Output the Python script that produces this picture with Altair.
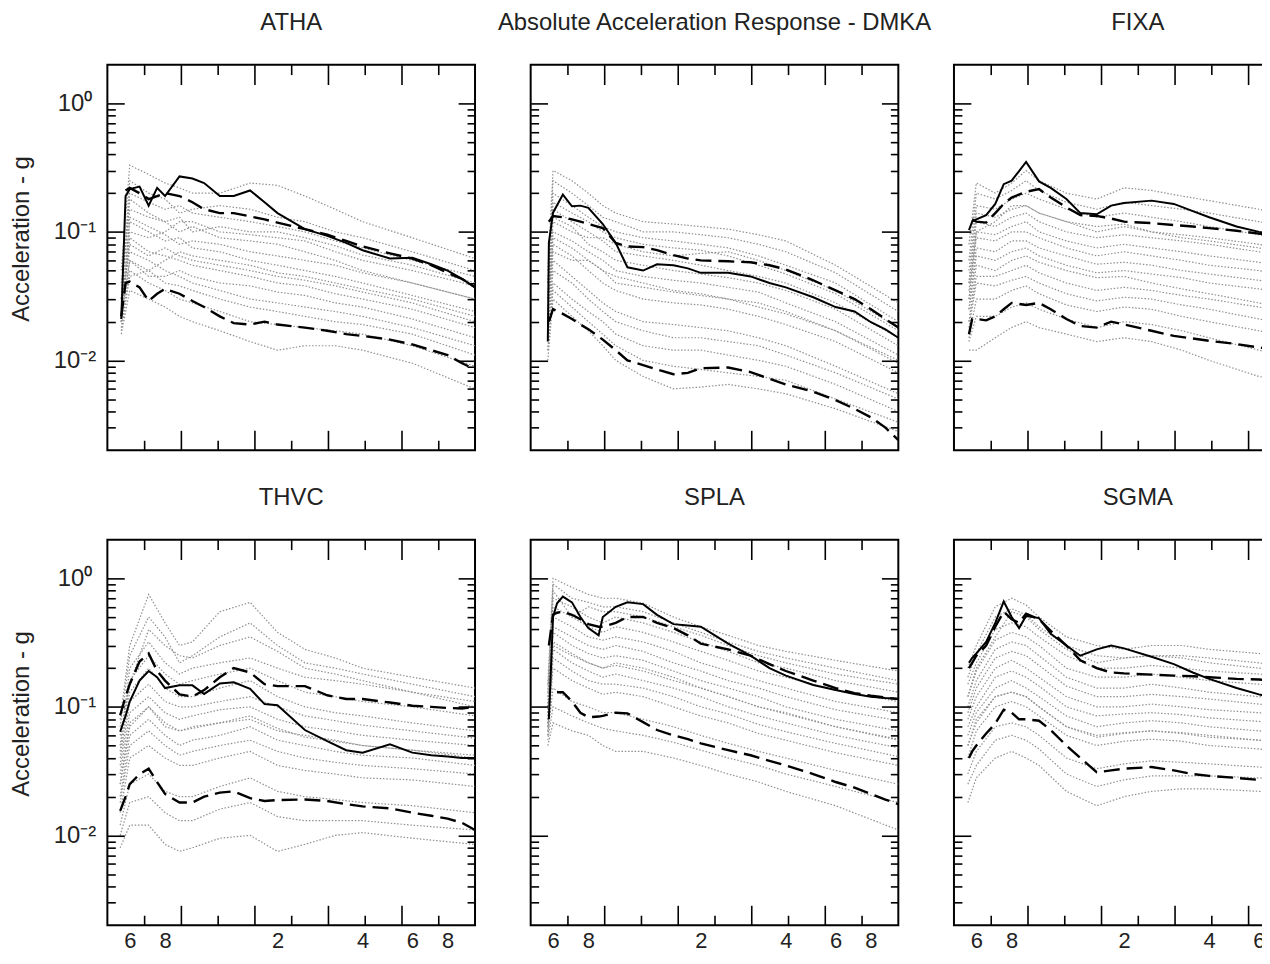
import altair as alt
import pandas as pd

FONT = "Liberation Sans"
TEXT_COLOR = "#222222"

KEYS = ["ATHA", "DMKA", "FIXA", "THVC", "SPLA", "SGMA"]
TITLES = ["ATHA", "Absolute Acceleration Response - DMKA", "FIXA", "THVC", "SPLA", "SGMA"]

# ---------------- main lines (solid = record, dashed = upper / lower bounds) ----------------
MAIN_X = {
    "ATHA": [0.56, 0.58, 0.6, 0.65, 0.7, 0.75, 0.8, 0.9, 1.0, 1.1, 1.25, 1.4, 1.6, 1.8, 2.0, 2.5, 3, 3.5, 4, 5, 6, 7, 8, 9, 10],
    "DMKA": [0.575, 0.58, 0.6, 0.65, 0.7, 0.75, 0.8, 0.9, 1.0, 1.1, 1.25, 1.4, 1.6, 1.8, 2.0, 2.5, 3, 3.5, 4, 5, 6, 7, 8, 9, 10],
    "FIXA": [0.565, 0.58, 0.6, 0.65, 0.7, 0.75, 0.8, 0.9, 1.0, 1.1, 1.25, 1.4, 1.6, 1.8, 2.0, 2.5, 3, 3.5, 4, 5, 6, 7, 8],
    "THVC": [0.555, 0.58, 0.6, 0.65, 0.7, 0.75, 0.8, 0.9, 1.0, 1.1, 1.25, 1.4, 1.6, 1.8, 2.0, 2.5, 3, 3.5, 4, 5, 6, 7, 8, 9, 10],
    "SPLA": [0.58, 0.6, 0.62, 0.65, 0.7, 0.75, 0.8, 0.87, 0.9, 1.0, 1.1, 1.25, 1.4, 1.6, 1.8, 2.0, 2.5, 3, 3.5, 4, 5, 6, 7, 8, 9, 10],
    "SGMA": [0.565, 0.58, 0.6, 0.65, 0.7, 0.75, 0.8, 0.85, 0.9, 1.0, 1.1, 1.25, 1.4, 1.6, 1.8, 2.0, 2.5, 3, 3.5, 4, 5, 6, 7, 8],
}
SOLID = {
    "ATHA": [0.021, 0.19, 0.215, 0.225, 0.16, 0.22, 0.19, 0.27, 0.26, 0.24, 0.19, 0.19, 0.21, 0.17, 0.14, 0.105, 0.093, 0.082, 0.072, 0.062, 0.063, 0.056, 0.05, 0.043, 0.037],
    "DMKA": [0.014, 0.082, 0.141, 0.195, 0.158, 0.16, 0.154, 0.115, 0.082, 0.053, 0.05, 0.056, 0.055, 0.052, 0.048, 0.048, 0.045, 0.04, 0.037, 0.031, 0.026, 0.024, 0.0198, 0.0174, 0.015],
    "FIXA": [0.103, 0.12, 0.125, 0.135, 0.165, 0.235, 0.25, 0.35, 0.247, 0.22, 0.18, 0.14, 0.137, 0.16, 0.168, 0.175, 0.165, 0.145, 0.13, 0.11, 0.1, 0.095, 0.09],
    "THVC": [0.064, 0.085, 0.11, 0.16, 0.19, 0.17, 0.14, 0.147, 0.147, 0.126, 0.152, 0.155, 0.138, 0.105, 0.103, 0.066, 0.054, 0.046, 0.044, 0.051, 0.044, 0.042, 0.041, 0.04, 0.04],
    "SPLA": [0.08, 0.5, 0.64, 0.72, 0.65, 0.5, 0.41, 0.36, 0.5, 0.6, 0.65, 0.63, 0.52, 0.44, 0.43, 0.42, 0.31, 0.25, 0.2, 0.175, 0.148, 0.135, 0.126, 0.12, 0.117, 0.115],
    "SGMA": [0.22, 0.24, 0.26, 0.32, 0.45, 0.66, 0.5, 0.41, 0.51, 0.49, 0.37, 0.3, 0.25, 0.28, 0.3, 0.285, 0.245, 0.215, 0.185, 0.165, 0.14, 0.125, 0.115, 0.108],
}
UPPER = {
    "ATHA": [None, 0.21, 0.22, 0.2, 0.18, 0.19, 0.2, 0.19, 0.17, 0.15, 0.14, 0.14, 0.132, 0.125, 0.118, 0.105, 0.095, 0.085, 0.077, 0.068, 0.062, 0.055, 0.048, 0.043, 0.037],
    "DMKA": [None, 0.12, 0.133, 0.13, 0.125, 0.12, 0.115, 0.107, 0.082, 0.077, 0.076, 0.072, 0.066, 0.062, 0.06, 0.059, 0.058, 0.055, 0.051, 0.042, 0.035, 0.03, 0.025, 0.021, 0.018],
    "FIXA": [None, 0.125, 0.12, 0.118, 0.14, 0.165, 0.185, 0.205, 0.215, 0.185, 0.155, 0.135, 0.133, 0.127, 0.12, 0.117, 0.113, 0.11, 0.107, 0.102, 0.097, 0.093, 0.09],
    "THVC": [0.086, 0.12, 0.15, 0.225, 0.26, 0.19, 0.16, 0.125, 0.12, 0.135, 0.17, 0.2, 0.185, 0.15, 0.145, 0.145, 0.123, 0.115, 0.115, 0.108, 0.102, 0.1, 0.098, 0.097, 0.1],
    "SPLA": [0.3, 0.52, 0.54, 0.55, 0.52, 0.48, 0.44, 0.42, 0.42, 0.45, 0.5, 0.5, 0.45, 0.41, 0.36, 0.31, 0.28, 0.25, 0.215, 0.19, 0.16, 0.14, 0.128, 0.122, 0.118, 0.115],
    "SGMA": [0.2, 0.22, 0.25, 0.3, 0.42, 0.55, 0.48, 0.45, 0.53, 0.48, 0.39, 0.3, 0.23, 0.2, 0.185, 0.182, 0.178, 0.175, 0.173, 0.17, 0.165, 0.163, 0.16, 0.158],
}
LOWER = {
    "ATHA": [0.022, 0.04, 0.041, 0.037, 0.029, 0.033, 0.036, 0.033, 0.029, 0.026, 0.022, 0.0195, 0.019, 0.02, 0.019, 0.018, 0.017, 0.016, 0.0155, 0.0145, 0.0133, 0.012, 0.011, 0.0095, 0.0085],
    "DMKA": [None, 0.02, 0.025, 0.023, 0.021, 0.019, 0.0175, 0.0145, 0.012, 0.01, 0.0092, 0.0085, 0.0078, 0.008, 0.0087, 0.0088, 0.0081, 0.0072, 0.0065, 0.0057, 0.0049, 0.0042, 0.0036, 0.003, 0.0024],
    "FIXA": [0.016, 0.021, 0.021, 0.0205, 0.022, 0.025, 0.028, 0.027, 0.028, 0.025, 0.021, 0.0185, 0.018, 0.02, 0.019, 0.017, 0.0155, 0.0148, 0.0142, 0.0134, 0.0126, 0.012, 0.0115],
    "THVC": [0.0155, 0.02, 0.025, 0.03, 0.033, 0.026, 0.021, 0.018, 0.018, 0.02, 0.0215, 0.022, 0.0195, 0.0185, 0.0188, 0.019, 0.0185, 0.0175, 0.0168, 0.0162, 0.015, 0.0142, 0.0135, 0.0125, 0.011],
    "SPLA": [None, None, 0.13, 0.13, 0.11, 0.09, 0.083, 0.084, 0.085, 0.09, 0.089, 0.076, 0.066, 0.06, 0.056, 0.052, 0.046, 0.042, 0.038, 0.035, 0.03, 0.026, 0.0235, 0.021, 0.019, 0.0175],
    "SGMA": [0.04, 0.045, 0.05, 0.062, 0.074, 0.095, 0.09, 0.08, 0.08, 0.078, 0.066, 0.05, 0.04, 0.031, 0.032, 0.033, 0.034, 0.032, 0.03, 0.029, 0.028, 0.027, 0.026, 0.025],
}

# ---------------- individual records (dotted gray) ----------------
GRAY_X = {
    "ATHA": [0.56, 0.6, 0.7, 0.8, 0.9, 1.0, 1.25, 1.6, 2.0, 2.5, 3.2, 4.0, 6.0, 10.0],
    "DMKA": [0.575, 0.6, 0.7, 0.8, 0.9, 1.0, 1.25, 1.6, 2.0, 2.5, 3.2, 4.0, 6.0, 10.0],
    "FIXA": [0.565, 0.6, 0.7, 0.8, 0.9, 1.0, 1.25, 1.6, 2.0, 2.5, 3.2, 4.0, 6.0, 10.0],
    "THVC": [0.555, 0.6, 0.7, 0.8, 0.9, 1.0, 1.25, 1.6, 2.0, 2.5, 3.2, 4.0, 6.0, 10.0],
    "SPLA": [0.575, 0.6, 0.7, 0.8, 0.9, 1.0, 1.25, 1.6, 2.0, 2.5, 3.2, 4.0, 6.0, 10.0],
    "SGMA": [0.56, 0.6, 0.7, 0.8, 0.9, 1.0, 1.25, 1.6, 2.0, 2.5, 3.2, 4.0, 6.0, 10.0],
}
GRAY = {
    "ATHA": [
        [0.05, 0.33, 0.28, 0.24, 0.22, 0.2, 0.2, 0.24, 0.23, 0.19, 0.15, 0.12, 0.09, 0.062],
        [0.03, 0.2, 0.17, 0.15, 0.16, 0.14, 0.13, 0.12, 0.11, 0.1, 0.085, 0.075, 0.06, 0.045],
        [0.04, 0.15, 0.13, 0.12, 0.1, 0.11, 0.09, 0.085, 0.08, 0.07, 0.06, 0.05, 0.04, 0.03],
        [0.025, 0.12, 0.1, 0.085, 0.09, 0.075, 0.07, 0.06, 0.055, 0.05, 0.045, 0.04, 0.032, 0.024],
        [0.02, 0.09, 0.07, 0.065, 0.06, 0.055, 0.05, 0.045, 0.04, 0.038, 0.033, 0.03, 0.025, 0.018],
        [0.03, 0.07, 0.06, 0.05, 0.045, 0.04, 0.035, 0.03, 0.028, 0.026, 0.024, 0.022, 0.018, 0.013],
        [0.018, 0.05, 0.04, 0.035, 0.03, 0.028, 0.024, 0.02, 0.019, 0.018, 0.017, 0.016, 0.013, 0.009],
        [0.016, 0.035, 0.03, 0.026, 0.022, 0.02, 0.017, 0.014, 0.012, 0.013, 0.013, 0.012, 0.0095, 0.006],
        [0.02, 0.1, 0.09, 0.1, 0.12, 0.12, 0.1, 0.095, 0.09, 0.085, 0.07, 0.06, 0.05, 0.038],
        [0.022, 0.06, 0.05, 0.06, 0.07, 0.065, 0.06, 0.055, 0.048, 0.045, 0.04, 0.036, 0.03, 0.022],
        [0.03, 0.25, 0.2, 0.18, 0.14, 0.15, 0.16, 0.15, 0.13, 0.12, 0.1, 0.09, 0.07, 0.05],
        [0.02, 0.13, 0.11, 0.095, 0.08, 0.085, 0.08, 0.07, 0.065, 0.06, 0.055, 0.048, 0.04, 0.03],
        [0.025, 0.08, 0.065, 0.075, 0.065, 0.06, 0.055, 0.05, 0.045, 0.042, 0.038, 0.034, 0.028, 0.02],
        [0.017, 0.045, 0.05, 0.04, 0.038, 0.035, 0.03, 0.026, 0.024, 0.022, 0.02, 0.019, 0.016, 0.011],
        [0.03, 0.18, 0.14, 0.12, 0.13, 0.1, 0.11, 0.1, 0.1, 0.09, 0.078, 0.066, 0.055, 0.04],
        [0.02, 0.06, 0.045, 0.045, 0.05, 0.045, 0.04, 0.038, 0.034, 0.032, 0.028, 0.026, 0.021, 0.015],
    ],
    "DMKA": [
        [0.05, 0.3, 0.25, 0.2, 0.16, 0.14, 0.12, 0.115, 0.11, 0.105, 0.095, 0.085, 0.055, 0.028],
        [0.03, 0.2, 0.16, 0.13, 0.11, 0.1, 0.09, 0.085, 0.08, 0.075, 0.065, 0.055, 0.04, 0.02],
        [0.04, 0.15, 0.12, 0.1, 0.085, 0.07, 0.065, 0.06, 0.055, 0.05, 0.045, 0.04, 0.028, 0.015],
        [0.02, 0.1, 0.085, 0.07, 0.06, 0.05, 0.045, 0.042, 0.04, 0.037, 0.034, 0.028, 0.02, 0.011],
        [0.025, 0.08, 0.065, 0.05, 0.04, 0.035, 0.03, 0.028, 0.027, 0.025, 0.022, 0.019, 0.014, 0.008],
        [0.015, 0.06, 0.045, 0.035, 0.028, 0.024, 0.02, 0.019, 0.018, 0.017, 0.015, 0.013, 0.009, 0.0055],
        [0.012, 0.04, 0.03, 0.024, 0.02, 0.016, 0.013, 0.012, 0.012, 0.011, 0.01, 0.009, 0.0065, 0.004],
        [0.01, 0.03, 0.022, 0.017, 0.013, 0.01, 0.0075, 0.006, 0.0062, 0.0065, 0.006, 0.0055, 0.0042, 0.0028],
        [0.03, 0.12, 0.1, 0.09, 0.09, 0.08, 0.07, 0.065, 0.068, 0.07, 0.06, 0.05, 0.035, 0.018],
        [0.02, 0.07, 0.06, 0.06, 0.05, 0.045, 0.04, 0.035, 0.033, 0.03, 0.026, 0.023, 0.017, 0.01],
        [0.04, 0.25, 0.2, 0.16, 0.13, 0.12, 0.1, 0.1, 0.095, 0.09, 0.08, 0.07, 0.048, 0.024],
        [0.025, 0.13, 0.11, 0.08, 0.07, 0.06, 0.055, 0.05, 0.047, 0.044, 0.04, 0.035, 0.025, 0.013],
        [0.02, 0.09, 0.075, 0.06, 0.05, 0.04, 0.037, 0.034, 0.032, 0.03, 0.028, 0.024, 0.017, 0.0095],
        [0.015, 0.05, 0.04, 0.03, 0.024, 0.02, 0.017, 0.015, 0.015, 0.014, 0.013, 0.011, 0.008, 0.005],
        [0.03, 0.17, 0.14, 0.12, 0.1, 0.09, 0.08, 0.075, 0.072, 0.065, 0.055, 0.047, 0.033, 0.017],
        [0.012, 0.035, 0.026, 0.02, 0.016, 0.013, 0.01, 0.009, 0.0085, 0.008, 0.0075, 0.007, 0.005, 0.0033],
    ],
    "FIXA": [
        [0.08, 0.24, 0.2, 0.24, 0.3, 0.25, 0.2, 0.18, 0.22, 0.21, 0.19, 0.175, 0.15, 0.12],
        [0.05, 0.16, 0.15, 0.18, 0.2, 0.18, 0.15, 0.13, 0.14, 0.13, 0.12, 0.11, 0.095, 0.075],
        [0.04, 0.12, 0.11, 0.13, 0.14, 0.12, 0.1, 0.09, 0.095, 0.09, 0.085, 0.08, 0.07, 0.055],
        [0.03, 0.09, 0.085, 0.1, 0.1, 0.09, 0.075, 0.065, 0.07, 0.065, 0.06, 0.055, 0.05, 0.04],
        [0.025, 0.065, 0.06, 0.07, 0.075, 0.065, 0.055, 0.048, 0.05, 0.047, 0.044, 0.04, 0.036, 0.03],
        [0.02, 0.045, 0.045, 0.05, 0.055, 0.048, 0.04, 0.035, 0.037, 0.035, 0.032, 0.03, 0.026, 0.021],
        [0.015, 0.03, 0.03, 0.035, 0.038, 0.033, 0.027, 0.024, 0.026, 0.025, 0.022, 0.02, 0.017, 0.014],
        [0.012, 0.012, 0.015, 0.018, 0.02, 0.018, 0.016, 0.014, 0.015, 0.014, 0.012, 0.01, 0.0075, 0.006],
        [0.035, 0.1, 0.12, 0.16, 0.16, 0.14, 0.12, 0.11, 0.115, 0.1, 0.09, 0.085, 0.075, 0.06],
        [0.02, 0.055, 0.05, 0.06, 0.065, 0.058, 0.05, 0.044, 0.045, 0.04, 0.036, 0.033, 0.028, 0.023],
        [0.06, 0.2, 0.18, 0.21, 0.25, 0.21, 0.17, 0.15, 0.17, 0.16, 0.15, 0.14, 0.12, 0.095],
        [0.04, 0.14, 0.13, 0.15, 0.16, 0.14, 0.12, 0.1, 0.11, 0.1, 0.095, 0.09, 0.08, 0.065],
        [0.03, 0.1, 0.095, 0.11, 0.12, 0.1, 0.085, 0.075, 0.08, 0.075, 0.07, 0.065, 0.058, 0.047],
        [0.025, 0.075, 0.07, 0.085, 0.085, 0.075, 0.065, 0.056, 0.058, 0.055, 0.05, 0.047, 0.042, 0.034],
        [0.018, 0.04, 0.038, 0.042, 0.045, 0.04, 0.033, 0.029, 0.031, 0.03, 0.027, 0.025, 0.021, 0.017],
        [0.014, 0.022, 0.022, 0.026, 0.028, 0.025, 0.021, 0.018, 0.02, 0.019, 0.017, 0.015, 0.012, 0.009],
    ],
    "THVC": [
        [0.08, 0.3, 0.75, 0.45, 0.3, 0.32, 0.55, 0.65, 0.38, 0.28, 0.24, 0.2, 0.17, 0.14],
        [0.05, 0.2, 0.32, 0.22, 0.18, 0.2, 0.22, 0.24, 0.2, 0.17, 0.16, 0.15, 0.13, 0.11],
        [0.04, 0.13, 0.2, 0.14, 0.12, 0.12, 0.14, 0.16, 0.12, 0.1, 0.09, 0.085, 0.075, 0.065],
        [0.03, 0.09, 0.12, 0.09, 0.08, 0.085, 0.095, 0.1, 0.08, 0.07, 0.065, 0.06, 0.055, 0.05],
        [0.02, 0.06, 0.08, 0.06, 0.05, 0.055, 0.06, 0.07, 0.055, 0.05, 0.045, 0.042, 0.04, 0.035],
        [0.015, 0.04, 0.05, 0.04, 0.035, 0.035, 0.04, 0.045, 0.035, 0.032, 0.03, 0.028, 0.027, 0.024],
        [0.012, 0.025, 0.03, 0.022, 0.02, 0.02, 0.024, 0.028, 0.022, 0.02, 0.019, 0.018, 0.017, 0.015],
        [0.008, 0.012, 0.012, 0.0085, 0.0075, 0.008, 0.0095, 0.01, 0.0075, 0.0085, 0.01, 0.0105, 0.0095, 0.0085],
        [0.06, 0.15, 0.4, 0.3, 0.25, 0.24, 0.3, 0.35, 0.27, 0.2, 0.18, 0.16, 0.13, 0.1],
        [0.025, 0.07, 0.1, 0.07, 0.065, 0.07, 0.075, 0.08, 0.065, 0.06, 0.055, 0.05, 0.046, 0.04],
        [0.07, 0.25, 0.5, 0.35, 0.22, 0.25, 0.35, 0.45, 0.3, 0.22, 0.2, 0.18, 0.15, 0.12],
        [0.045, 0.16, 0.25, 0.18, 0.15, 0.16, 0.18, 0.2, 0.16, 0.13, 0.12, 0.11, 0.1, 0.085],
        [0.035, 0.11, 0.15, 0.11, 0.1, 0.1, 0.11, 0.12, 0.1, 0.085, 0.078, 0.072, 0.065, 0.057],
        [0.025, 0.075, 0.1, 0.075, 0.065, 0.068, 0.075, 0.085, 0.068, 0.058, 0.054, 0.05, 0.046, 0.042],
        [0.018, 0.05, 0.065, 0.05, 0.042, 0.045, 0.05, 0.055, 0.045, 0.04, 0.037, 0.035, 0.033, 0.03],
        [0.01, 0.018, 0.02, 0.015, 0.013, 0.013, 0.016, 0.018, 0.014, 0.013, 0.013, 0.013, 0.012, 0.011],
    ],
    "SPLA": [
        [0.15, 1.0, 0.85, 0.75, 0.7, 0.7, 0.64, 0.5, 0.42, 0.36, 0.3, 0.27, 0.23, 0.19],
        [0.1, 0.7, 0.6, 0.5, 0.45, 0.5, 0.45, 0.38, 0.32, 0.27, 0.22, 0.2, 0.16, 0.13],
        [0.09, 0.5, 0.42, 0.35, 0.33, 0.35, 0.32, 0.27, 0.22, 0.19, 0.16, 0.14, 0.11, 0.09],
        [0.08, 0.38, 0.3, 0.26, 0.24, 0.25, 0.23, 0.19, 0.16, 0.14, 0.12, 0.1, 0.08, 0.065],
        [0.07, 0.28, 0.22, 0.19, 0.17, 0.18, 0.16, 0.14, 0.12, 0.1, 0.085, 0.075, 0.06, 0.048],
        [0.06, 0.2, 0.16, 0.14, 0.125, 0.13, 0.12, 0.1, 0.085, 0.075, 0.062, 0.055, 0.044, 0.035],
        [0.06, 0.14, 0.11, 0.1, 0.09, 0.09, 0.08, 0.07, 0.06, 0.052, 0.045, 0.04, 0.032, 0.025],
        [0.05, 0.075, 0.065, 0.06, 0.05, 0.045, 0.045, 0.04, 0.035, 0.03, 0.026, 0.022, 0.017, 0.011],
        [0.12, 0.8, 0.5, 0.6, 0.55, 0.55, 0.5, 0.42, 0.36, 0.3, 0.25, 0.22, 0.18, 0.15],
        [0.07, 0.3, 0.25, 0.22, 0.2, 0.22, 0.2, 0.17, 0.14, 0.12, 0.1, 0.09, 0.07, 0.055],
        [0.13, 0.9, 0.7, 0.65, 0.6, 0.6, 0.55, 0.45, 0.38, 0.32, 0.27, 0.24, 0.2, 0.16],
        [0.1, 0.6, 0.5, 0.42, 0.38, 0.42, 0.38, 0.32, 0.27, 0.23, 0.19, 0.17, 0.135, 0.11],
        [0.085, 0.42, 0.35, 0.3, 0.28, 0.3, 0.27, 0.22, 0.19, 0.16, 0.14, 0.12, 0.095, 0.078],
        [0.075, 0.32, 0.26, 0.22, 0.2, 0.21, 0.19, 0.16, 0.14, 0.12, 0.1, 0.088, 0.07, 0.056],
        [0.065, 0.24, 0.19, 0.16, 0.15, 0.15, 0.14, 0.12, 0.1, 0.088, 0.073, 0.064, 0.052, 0.041],
        [0.055, 0.1, 0.085, 0.075, 0.068, 0.065, 0.06, 0.053, 0.046, 0.04, 0.035, 0.03, 0.024, 0.018],
    ],
    "SGMA": [
        [0.2, 0.3, 0.6, 0.7, 0.62, 0.5, 0.35, 0.3, 0.28, 0.3, 0.3, 0.28, 0.26, 0.22],
        [0.15, 0.22, 0.4, 0.45, 0.42, 0.35, 0.25, 0.2, 0.2, 0.21, 0.2, 0.19, 0.18, 0.16],
        [0.1, 0.16, 0.28, 0.32, 0.3, 0.25, 0.17, 0.14, 0.14, 0.15, 0.14, 0.13, 0.12, 0.11],
        [0.08, 0.12, 0.2, 0.23, 0.2, 0.17, 0.12, 0.1, 0.1, 0.105, 0.1, 0.095, 0.09, 0.08],
        [0.06, 0.09, 0.14, 0.16, 0.14, 0.12, 0.085, 0.07, 0.075, 0.078, 0.075, 0.07, 0.065, 0.058],
        [0.04, 0.065, 0.1, 0.11, 0.1, 0.085, 0.06, 0.05, 0.054, 0.056, 0.054, 0.05, 0.047, 0.042],
        [0.03, 0.045, 0.07, 0.075, 0.07, 0.06, 0.04, 0.033, 0.036, 0.038, 0.037, 0.036, 0.034, 0.031],
        [0.018, 0.028, 0.04, 0.045, 0.04, 0.035, 0.022, 0.017, 0.02, 0.022, 0.023, 0.023, 0.022, 0.02],
        [0.12, 0.2, 0.35, 0.55, 0.5, 0.4, 0.28, 0.22, 0.24, 0.25, 0.24, 0.22, 0.2, 0.18],
        [0.05, 0.08, 0.12, 0.13, 0.12, 0.1, 0.07, 0.06, 0.063, 0.065, 0.062, 0.058, 0.055, 0.05],
        [0.17, 0.26, 0.5, 0.58, 0.52, 0.42, 0.3, 0.25, 0.24, 0.25, 0.25, 0.24, 0.22, 0.19],
        [0.12, 0.19, 0.33, 0.38, 0.35, 0.3, 0.2, 0.17, 0.17, 0.18, 0.17, 0.16, 0.15, 0.135],
        [0.09, 0.14, 0.24, 0.27, 0.25, 0.21, 0.145, 0.12, 0.12, 0.125, 0.12, 0.115, 0.105, 0.095],
        [0.07, 0.1, 0.17, 0.19, 0.17, 0.145, 0.1, 0.085, 0.088, 0.09, 0.087, 0.082, 0.077, 0.068],
        [0.05, 0.075, 0.12, 0.13, 0.12, 0.1, 0.07, 0.058, 0.062, 0.065, 0.063, 0.06, 0.055, 0.05],
        [0.025, 0.035, 0.055, 0.06, 0.055, 0.047, 0.03, 0.024, 0.027, 0.029, 0.029, 0.029, 0.028, 0.025],
    ],
}

# ---------------- axes ----------------
X_DOMAIN = [0.5, 10]
Y_DOMAIN = [0.002, 2]
X_TICK_MAJOR = [0.9103, 1.6572, 3.0171, 5.4928]
X_TICK_MINOR = [0.6746, 1.2283, 2.2361, 4.0709, 7.4113]
Y_TICK_MAJOR = [0.01, 0.1, 1]
Y_TICK_MINOR = [0.003, 0.004, 0.005, 0.006, 0.007, 0.008, 0.009,
                0.02, 0.03, 0.04, 0.05, 0.06, 0.07, 0.08, 0.09,
                0.2, 0.3, 0.4, 0.5, 0.6, 0.7, 0.8, 0.9]
X_LABEL_VALUES = [0.6, 0.8, 2, 4, 6, 8]
X_LABEL_TEXT = ["6", "8", "2", "4", "6", "8"]
Y_LABEL_VALUES = [0.01, 0.1, 1]
Y_LABEL_TEXT = ["10\u207b\u00b2", "10\u207b\u00b9", "10\u2070"]
Y_TITLE = "Acceleration - g"

W, H = 370, 388


def label_expr(values, texts):
    expr = "''"
    for v, t in reversed(list(zip(values, texts))):
        expr = f"datum.value == {v} ? '{t}' : ({expr})"
    return expr


def tick_axis(orient, values, size):
    return alt.Axis(orient=orient, values=values, tickSize=size, offset=-size,
                    labels=False, domain=False, grid=False, ticks=True,
                    tickColor="black", tickWidth=1.6, title=None, zindex=1,
                    minExtent=0, maxExtent=size)


def panel(i):
    key = KEYS[i]
    row, col = divmod(i, 3)
    rows = []
    for kind, arr in (("solid", SOLID[key]), ("upper", UPPER[key]), ("lower", LOWER[key])):
        for xv, yv in zip(MAIN_X[key], arr):
            if yv is not None:
                rows.append({"x": xv, "y": yv, "kind": kind})
    main = pd.DataFrame(rows)
    grows = []
    for r, rec in enumerate(GRAY[key]):
        for xv, yv in zip(GRAY_X[key], rec):
            grows.append({"x": xv, "y": yv, "rec": r})
    gray_df = pd.DataFrame(grows)

    xs = alt.Scale(type="log", domain=X_DOMAIN, nice=False)
    ys = alt.Scale(type="log", domain=Y_DOMAIN, nice=False)

    if row == 1:
        xlab = alt.Axis(orient="bottom", values=X_LABEL_VALUES,
                        labelExpr=label_expr(X_LABEL_VALUES, X_LABEL_TEXT),
                        ticks=False, tickSize=0, domain=False, grid=False,
                        labelPadding=5, labelFontSize=22, labelFlush=False,
                        labelOverlap=False, title=None)
    else:
        xlab = None
    if col == 0:
        ylab = alt.Axis(orient="left", values=Y_LABEL_VALUES,
                        labelExpr=label_expr(Y_LABEL_VALUES, Y_LABEL_TEXT),
                        ticks=False, tickSize=0, domain=False, grid=False,
                        labelPadding=33, labelAlign="center", labelBaseline="middle",
                        labelFontSize=24, labelFlush=False, labelOverlap=False,
                        title=Y_TITLE, titleFontSize=24, titleFontWeight="normal",
                        titleAngle=270, titleX=-86, titleY=175, titleBaseline="middle",
                        titleAlign="center")
    else:
        ylab = None

    gray = alt.Chart(gray_df).mark_line(
        color="#8f8f8f", strokeWidth=1.2, strokeDash=[1.5, 1.8], clip=True
    ).encode(
        x=alt.X("x:Q", scale=xs, axis=xlab),
        y=alt.Y("y:Q", scale=ys, axis=ylab),
        detail="rec:N",
    )
    dashed = alt.Chart(main).transform_filter("datum.kind != 'solid'").mark_line(
        color="black", strokeWidth=2.4, strokeDash=[16, 7], clip=True
    ).encode(
        x=alt.X("x:Q", scale=xs, axis=None),
        y=alt.Y("y:Q", scale=ys, axis=None),
        detail="kind:N",
    )
    solid = alt.Chart(main).transform_filter("datum.kind == 'solid'").mark_line(
        color="black", strokeWidth=2, clip=True
    ).encode(
        x=alt.X("x:Q", scale=xs, axis=None),
        y=alt.Y("y:Q", scale=ys, axis=None),
    )
    ticks = []
    for xo, yo in (("bottom", "left"), ("top", "right")):
        for xv, yv, xsz, ysz in ((X_TICK_MAJOR, Y_TICK_MAJOR, 20, 17),
                                 (X_TICK_MINOR, Y_TICK_MINOR, 10, 8)):
            ticks.append(
                alt.Chart(main).transform_filter("datum.kind == 'solid'").mark_line(opacity=0).encode(
                    x=alt.X("x:Q", scale=xs, axis=tick_axis(xo, xv, xsz)),
                    y=alt.Y("y:Q", scale=ys, axis=tick_axis(yo, yv, ysz)),
                )
            )
    return alt.layer(gray, dashed, solid, *ticks).resolve_axis(
        x="independent", y="independent"
    ).properties(
        width=W, height=H,
        title=alt.TitleParams(TITLES[i], anchor="middle", offset=29, fontSize=24,
                              fontWeight="normal", font=FONT, color=TEXT_COLOR),
    )


# The reference is cropped on the right (third column) and at the bottom,
# so the SVG is given a fixed size and the overflow is clipped.
chart = alt.concat(
    *[panel(i) for i in range(6)], columns=3, spacing={"row": 90, "column": 56}, bounds="flush"
).properties(
    autosize=alt.AutoSizeParams(type="none"),
    padding={"left": 100, "top": 54, "right": 1162, "bottom": 894},
    background="white",
).configure_view(
    stroke="black", strokeWidth=2
).configure_axis(
    labelFont=FONT, titleFont=FONT, labelColor=TEXT_COLOR, titleColor=TEXT_COLOR
)

chart.save("out.html", embed_options={"renderer": "svg", "actions": False})
